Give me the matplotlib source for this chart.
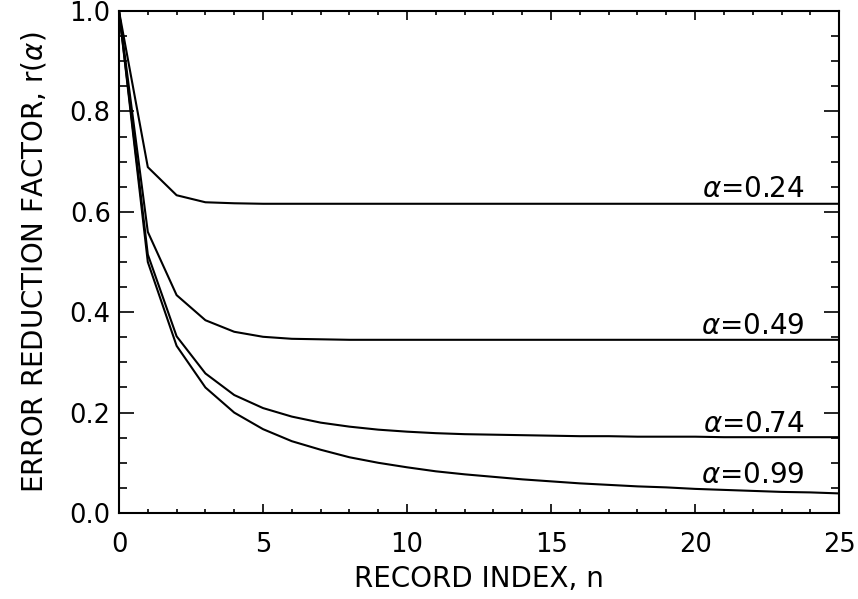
import numpy as np
import matplotlib
matplotlib.use("Agg")
import matplotlib.pyplot as plt
from matplotlib.ticker import MultipleLocator

# record index n = 0..25
n = np.arange(26)

# error reduction factor r(alpha) for each smoothing constant
r_024 = [1.0, 0.689, 0.633, 0.619, 0.617, 0.616, 0.616, 0.616, 0.616, 0.616,
         0.616, 0.616, 0.616, 0.616, 0.616, 0.616, 0.616, 0.616, 0.616, 0.616,
         0.616, 0.616, 0.616, 0.616, 0.616, 0.616]
r_049 = [1.0, 0.560, 0.434, 0.384, 0.361, 0.351, 0.347, 0.346, 0.345, 0.345,
         0.345, 0.345, 0.345, 0.345, 0.345, 0.345, 0.345, 0.345, 0.345, 0.345,
         0.345, 0.345, 0.345, 0.345, 0.345, 0.345]
r_074 = [1.0, 0.515, 0.352, 0.278, 0.235, 0.209, 0.192, 0.180, 0.172, 0.166,
         0.162, 0.159, 0.157, 0.156, 0.155, 0.154, 0.153, 0.153, 0.152, 0.152,
         0.152, 0.151, 0.151, 0.151, 0.151, 0.151]
r_099 = [1.0, 0.500, 0.333, 0.250, 0.200, 0.167, 0.143, 0.126, 0.111, 0.100,
         0.091, 0.083, 0.077, 0.072, 0.067, 0.063, 0.059, 0.056, 0.053, 0.051,
         0.048, 0.046, 0.044, 0.042, 0.041, 0.039]

curves = [r_024, r_049, r_074, r_099]
labels = [r"$\alpha$=0.24", r"$\alpha$=0.49", r"$\alpha$=0.74", r"$\alpha$=0.99"]
label_y = [0.629, 0.357, 0.162, 0.059]

plt.rcParams['font.family'] = ['DejaVu Sans']
plt.rcParams['mathtext.fontset'] = 'dejavusans'

fig = plt.figure(figsize=(8.58, 5.99), dpi=100)
ax = fig.add_axes([0.1387, 0.1436, 0.8393, 0.838])

for r, lab, ly in zip(curves, labels, label_y):
    ax.plot(n, r, color='black', linewidth=1.5)
    ax.text(23.8, ly, lab, fontsize=20, ha='right', va='baseline')

ax.set_xlim(0, 25)
ax.set_ylim(0, 1.0)
ax.xaxis.set_major_locator(MultipleLocator(5))
ax.xaxis.set_minor_locator(MultipleLocator(1))
ax.yaxis.set_major_locator(MultipleLocator(0.2))
ax.yaxis.set_minor_locator(MultipleLocator(0.05))
ax.yaxis.set_major_formatter(plt.FormatStrFormatter('%.1f'))

ax.tick_params(axis='both', which='both', direction='in', top=True, right=True,
               labelsize=18.5, width=1.2)
ax.tick_params(axis='x', which='major', length=6.5, pad=14)
ax.tick_params(axis='x', which='minor', length=3.2)
ax.tick_params(axis='y', which='major', length=11, pad=6)
ax.tick_params(axis='y', which='minor', length=5.5)
for s in ax.spines.values():
    s.set_linewidth(1.5)

ax.set_xlabel("RECORD INDEX, n", fontsize=20, labelpad=5)
ax.set_ylabel(r"ERROR REDUCTION FACTOR, r($\alpha$)", fontsize=20, labelpad=15)

fig.savefig("out.png", dpi=100)
